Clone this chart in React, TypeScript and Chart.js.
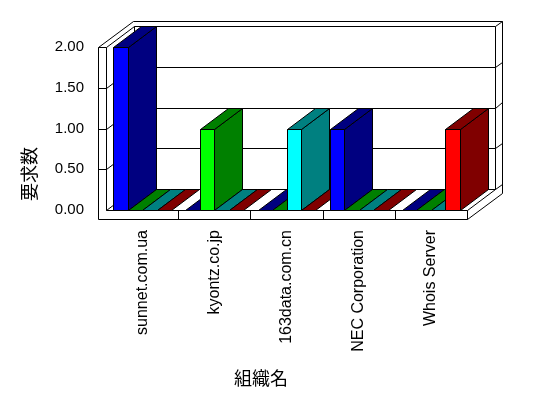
import React, { useEffect, useRef } from 'react';
import { Chart, registerables } from 'chart.js';

Chart.register(...registerables);

// ---- data ----
const categories = ['sunnet.com.ua', 'kyontz.co.jp', '163data.com.cn', 'NEC Corporation', 'Whois Server'];
const seriesNames = ['系列1', '系列2', '系列3', '系列4'];
const seriesBlue = [2, 0, 0, 1, 0];
const seriesGreen = [0, 1, 0, 0, 0];
const seriesCyan = [0, 0, 1, 0, 0];
const seriesRed = [0, 0, 0, 0, 1];
const frontColors = ['#0000FF', '#00FF00', '#00FFFF', '#FF0000'];
const sideColors = ['#000080', '#008000', '#008080', '#800000'];
const yMin = 0;
const yMax = 2;
const yStep = 0.5;
const xTitle = '組織名';
const yTitle = '要求数';

// ---- 3D style ----
const DX = 28;
const DY = -21;
const K = 1.25; // back wall thickness as depth factor
const WALL = 8;
const FLOOR = 9;

const c = (v: number) => Math.round(v) + 0.5;

function poly(ctx: CanvasRenderingContext2D, pts: number[][], fill?: string) {
  ctx.beginPath();
  pts.forEach(([x, y], i) => (i ? ctx.lineTo(c(x), c(y)) : ctx.moveTo(c(x), c(y))));
  ctx.closePath();
  if (fill) {
    ctx.fillStyle = fill;
    ctx.fill();
  }
  ctx.stroke();
}

function line(ctx: CanvasRenderingContext2D, pts: number[][]) {
  ctx.beginPath();
  pts.forEach(([x, y], i) => (i ? ctx.lineTo(c(x), c(y)) : ctx.moveTo(c(x), c(y))));
  ctx.stroke();
}

const depthPlugin = {
  id: 'depth3d',
  beforeDatasetsDraw(chart: any) {
    const { ctx, chartArea } = chart;
    const ys = chart.scales.y;
    const xs = chart.scales.x;
    const L = chartArea.left;
    const R = chartArea.right;
    const T = ys.getPixelForValue(yMax);
    const B = ys.getPixelForValue(yMin);
    const W0 = L - WALL;
    ctx.save();
    ctx.strokeStyle = '#000';
    ctx.lineWidth = 1;
    // outline
    poly(ctx, [
      [W0, T], [W0, B + FLOOR], [R, B + FLOOR], [R + DX * K, B + FLOOR + DY * K],
      [R + DX * K, T + DY * K], [W0 + DX * K, T + DY * K],
    ], '#FFFFFF');
    line(ctx, [[W0, T], [L, T], [L, B], [R, B], [R, B + FLOOR]]);
    line(ctx, [[L, T], [L + DX, T + DY], [R + DX, T + DY], [R + DX * K, T + DY * K]]);
    line(ctx, [[R + DX, T + DY], [R + DX, B + DY], [R + DX * K, B + DY * K]]);
    line(ctx, [[R, B], [R + DX, B + DY]]);
    line(ctx, [[L, B], [L + DX, B + DY], [R + DX, B + DY]]);
    line(ctx, [[L + DX, T + DY], [L + DX, B + DY]]);
    // gridlines
    ys.ticks.forEach((t: any) => {
      if (t.value <= yMin || t.value >= yMax) return;
      const yv = ys.getPixelForValue(t.value);
      line(ctx, [[W0, yv], [L, yv], [L + DX, yv + DY], [R + DX, yv + DY], [R + DX * K, yv + DY * K]]);
    });
    // category dividers on floor front
    for (let i = 0; i < categories.length - 1; i++) {
      const mx = (xs.getPixelForValue(i) + xs.getPixelForValue(i + 1)) / 2;
      line(ctx, [[mx, B], [mx, B + FLOOR]]);
    }
    ctx.restore();
  },
  beforeDatasetDraw() {
    return false;
  },
  afterDatasetsDraw(chart: any) {
    const { ctx } = chart;
    const items: any[] = [];
    chart.data.datasets.forEach((ds: any, d: number) => {
      const meta = chart.getDatasetMeta(d);
      meta.data.forEach((el: any, i: number) => {
        const p = el.getProps(['x', 'y', 'base', 'width'], true);
        items.push({ d, v: ds.data[i], ...p });
      });
    });
    items.sort((a, b) => a.x - b.x);
    ctx.save();
    ctx.strokeStyle = '#000';
    ctx.lineWidth = 1;
    items.forEach((it) => {
      const xl = it.x - it.width / 2;
      const xr = it.x + it.width / 2;
      const yt = Math.min(it.y, it.base);
      const yb = Math.max(it.y, it.base);
      const front = frontColors[it.d];
      const side = sideColors[it.d];
      if (Math.round(yb) - Math.round(yt) > 0) {
        poly(ctx, [[xl, yt], [xr, yt], [xr, yb], [xl, yb]], front);
        poly(ctx, [[xr, yt], [xr, yb], [xr + DX, yb + DY], [xr + DX, yt + DY]], side);
      }
      poly(ctx, [[xl, yt], [xr, yt], [xr + DX, yt + DY], [xl + DX, yt + DY]], side);
    });
    ctx.restore();
  },
  afterDraw(chart: any) {
    const { ctx } = chart;
    ctx.save();
    ctx.fillStyle = '#000';
    ctx.font = '18px "Noto Sans CJK JP", sans-serif';
    ctx.textAlign = 'center';
    ctx.textBaseline = 'middle';
    ctx.fillText(xTitle, 261, 378);
    ctx.translate(29, 174);
    ctx.rotate(-Math.PI / 2);
    ctx.fillText(yTitle, 0, 0);
    ctx.restore();
  },
};

export default function App() {
  const ref = useRef<HTMLCanvasElement>(null);
  useEffect(() => {
    document.body.style.margin = '0';
    const seriesData = [seriesBlue, seriesGreen, seriesCyan, seriesRed];
    const chart = new Chart(ref.current as HTMLCanvasElement, {
      type: 'bar',
      data: {
        labels: categories,
        datasets: seriesData.map((data, i) => ({
          label: seriesNames[i],
          data,
          backgroundColor: frontColors[i],
          borderWidth: 0,
          categoryPercentage: 0.8,
          barPercentage: 1.0,
        })),
      },
      options: {
        responsive: false,
        animation: false,
        layout: { padding: { left: 0, right: 81, top: 47, bottom: 0 } },
        plugins: { legend: { display: false }, tooltip: { enabled: false } },
        scales: {
          x: {
            grid: { display: false, drawTicks: false, tickLength: 0 },
            border: { display: false },
            ticks: {
              autoSkip: false,
              maxRotation: 90,
              minRotation: 90,
              padding: 20,
              color: '#000',
              font: { family: '"Liberation Sans", Arial, sans-serif', size: 16 },
            },
            afterFit: (s: any) => {
              s.height = 188;
            },
          },
          y: {
            min: yMin,
            max: yMax,
            grid: { display: false, drawTicks: false, tickLength: 0 },
            border: { display: false },
            ticks: {
              stepSize: yStep,
              padding: 22,
              color: '#000',
              font: { family: '"Liberation Sans", Arial, sans-serif', size: 15 },
              callback: (v: any) => Number(v).toFixed(2),
            },
            afterFit: (s: any) => {
              s.width = 106;
            },
          },
        },
      },
      plugins: [depthPlugin],
    } as any);
    return () => chart.destroy();
  }, []);
  return (
    <div style={{ width: 548, height: 398 }}>
      <canvas ref={ref} width={548} height={398} style={{ display: 'block' }} />
    </div>
  );
}
